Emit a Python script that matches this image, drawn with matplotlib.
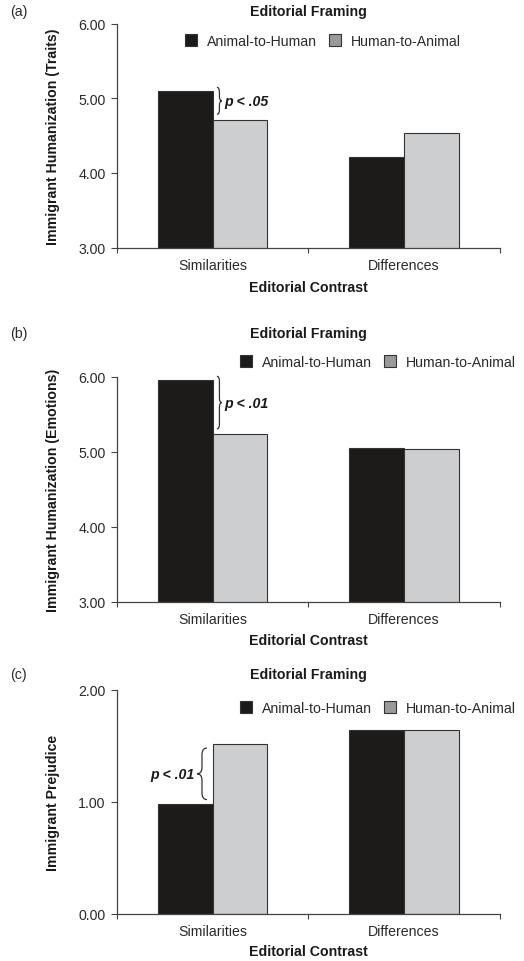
import matplotlib
matplotlib.use('Agg')
import matplotlib.pyplot as plt
from matplotlib.path import Path
from matplotlib.patches import PathPatch

plt.rcParams['font.family'] = ['Liberation Sans', 'DejaVu Sans']

# data
categories = ['Similarities', 'Differences']
series = ['Animal-to-Human', 'Human-to-Animal']
traits_a2h = [5.10, 4.21]
traits_h2a = [4.71, 4.53]
emotions_a2h = [5.96, 5.05]
emotions_h2a = [5.23, 5.04]
prejudice_a2h = [0.98, 1.64]
prejudice_h2a = [1.52, 1.64]

ylabels = ['Immigrant Humanization (Traits)', 'Immigrant Humanization (Emotions)', 'Immigrant Prejudice']
yticks = [[3, 4, 5, 6], [3, 4, 5, 6], [0, 1, 2]]
p_texts = ['p < .05', 'p < .01', 'p < .01']

black = '#1d1a1a'
light = '#cdcecf'
edge = '#333333'
fs = 10.2

W, H = 524, 962
fig = plt.figure(figsize=(W / 100, H / 100), dpi=100)


def px_axes(left, top, right, bottom):
    return fig.add_axes([left / W, 1 - bottom / H, (right - left) / W, (bottom - top) / H])


def brace(ax, x0, y0, y1, w, r):
    # curly bracket: ends at x0, tip at x0+w, from y0 (low) to y1 (high)
    xm = x0 + w * 0.5
    ym = (y0 + y1) / 2
    verts = [(x0, y1), (xm, y1), (xm, y1 - r),
             (xm, ym + r), (xm, ym), (x0 + w, ym),
             (xm, ym), (xm, ym - r),
             (xm, y0 + r), (xm, y0), (x0, y0)]
    codes = [Path.MOVETO, Path.CURVE3, Path.CURVE3,
             Path.LINETO, Path.CURVE3, Path.CURVE3,
             Path.CURVE3, Path.CURVE3,
             Path.LINETO, Path.CURVE3, Path.CURVE3]
    ax.add_patch(PathPatch(Path(verts, codes), fill=False, edgecolor='#333333', lw=0.9,
                           clip_on=False))


panels = [
    dict(box=(116.7, 24.5, 500, 248.7), a2h=traits_a2h, h2a=traits_h2a, lim=(3, 6),
         ytop=12, leg=(185, 42), xl=288),
    dict(box=(116.7, 377.7, 500, 602.7), a2h=emotions_a2h, h2a=emotions_h2a, lim=(3, 6),
         ytop=334, leg=(240, 363), xl=641),
    dict(box=(116.7, 690.7, 500, 915), a2h=prejudice_a2h, h2a=prejudice_h2a, lim=(0, 2),
         ytop=675, leg=(240, 709), xl=952.5),
]

bw = 1 / 3.5
x = [0, 1]
for i, p in enumerate(panels):
    ax = px_axes(*p['box'])
    b1 = ax.bar([v - bw / 2 for v in x], p['a2h'], bw, color=black, edgecolor=edge, lw=0.8,
                label=series[0], zorder=2)
    b2 = ax.bar([v + bw / 2 for v in x], p['h2a'], bw, color=light, edgecolor=edge, lw=0.8,
                label=series[1], zorder=2)
    lo, hi = p['lim']
    ax.set_ylim(lo, hi)
    ax.set_xlim(-0.5, 1.5)
    ax.set_yticks(yticks[i])
    ax.set_yticklabels(['%.2f' % t for t in yticks[i]])
    ax.set_xticks([-0.5, 0.5, 1.5])
    ax.set_xticklabels([])
    ax.set_xticks(x, minor=True)
    ax.set_xticklabels(categories, minor=True)
    ax.tick_params(axis='x', which='minor', length=0, pad=7.2, labelsize=fs, labelcolor='#2a2a2a')
    ax.tick_params(axis='x', which='major', length=3.5, width=0.8, color='#444444')
    ax.tick_params(axis='y', length=4, width=0.8, pad=4.0, labelsize=fs, color='#444444',
                   labelcolor='#2a2a2a')
    for s in ['top', 'right']:
        ax.spines[s].set_visible(False)
    for s in ['left', 'bottom']:
        ax.spines[s].set_color('#444444')
        ax.spines[s].set_linewidth(0.9)
    ax.set_ylabel(ylabels[i], fontsize=fs, fontweight='bold', color='#1a1a1a')
    ax.yaxis.set_label_coords(-0.148, 0.5)

    l, t, r, b = p['box']
    cx = (l + r) / 2
    fig.text(cx / W, 1 - p['ytop'] / H, 'Editorial Framing', ha='center', va='center',
             fontsize=fs, fontweight='bold', color='#1a1a1a')
    fig.text(10 / W, 1 - p['ytop'] / H, '(%s)' % 'abc'[i], ha='left', va='center',
             fontsize=fs, color='#2a2a2a')
    fig.text(cx / W, 1 - p['xl'] / H, 'Editorial Contrast', ha='center', va='center',
             fontsize=fs, fontweight='bold', color='#1a1a1a')

    lg = ax.legend(handles=[b1, b2], loc='center left', ncol=2, frameon=False,
                   bbox_to_anchor=(p['leg'][0] / W, 1 - p['leg'][1] / H),
                   bbox_transform=fig.transFigure, fontsize=fs, borderpad=0,
                   handlelength=0.85, handleheight=0.85, handletextpad=0.7,
                   columnspacing=0.85, borderaxespad=0)
    for txt in lg.get_texts():
        txt.set_color('#2a2a2a')
    lg.legend_handles[1].set_facecolor('#9a9a9a')

    # significance bracket between the Similarities bars
    s_a, s_h = p['a2h'][0], p['h2a'][0]
    span = hi - lo
    if i < 2:
        y1 = s_a + 0.015 * span
        y0 = s_h + 0.025 * span
        brace(ax, 0.023, y0, y1, 0.026, 0.02 * span)
        ax.text(0.062, (y0 + y1) / 2, p_texts[i], ha='left', va='center', fontsize=fs,
                fontweight='bold', style='italic', color='#1a1a1a')
    else:
        y1 = s_h - 0.02 * span
        y0 = s_a + 0.02 * span
        brace(ax, -0.029, y0, y1, -0.052, 0.03 * span)
        ax.text(-0.092, (y0 + y1) / 2, p_texts[i], ha='right', va='center', fontsize=fs,
                fontweight='bold', style='italic', color='#1a1a1a')

fig.savefig('out.png', dpi=100)
